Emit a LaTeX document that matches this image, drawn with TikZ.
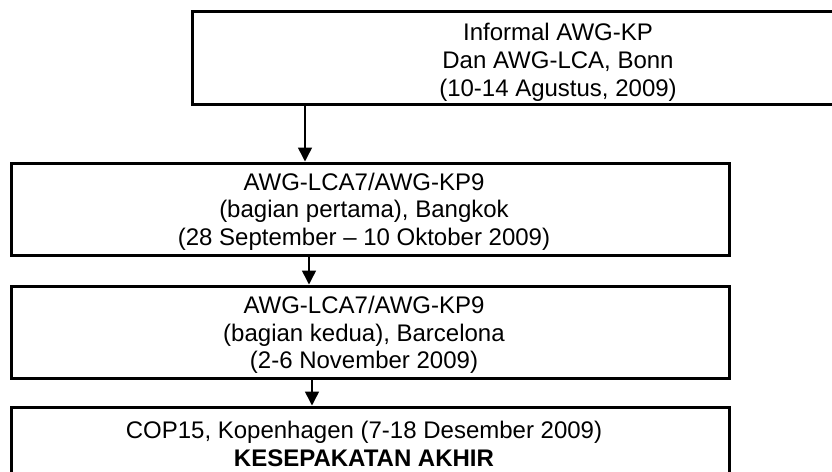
\documentclass[tikz,border=0pt]{standalone}
\usepackage{fontspec}
\setmainfont{Liberation Sans}
\usetikzlibrary{arrows.meta}
\begin{document}
\begin{tikzpicture}[x=0.5pt,y=-0.5pt,
  box/.style={draw, line width=1.5pt, rectangle, inner sep=0pt},
  txt/.style={anchor=base, inner sep=0pt, font=\fontsize{12}{14}\selectfont},
  arr/.style={line width=0.75pt, -{Triangle[width=7pt,length=7pt]}}]
\useasboundingbox (0,0) rectangle (832,472);
\clip (0,0) rectangle (832,472);
% boxes
\node[box, minimum width=366.5pt, minimum height=46.5pt] (b1) at (558.5,57.5) {};
\node[box, minimum width=359pt, minimum height=46pt] (b2) at (370,209) {};
\node[box, minimum width=359pt, minimum height=46pt] (b3) at (370,332) {};
\node[box, minimum width=359pt, minimum height=46.5pt] (b4) at (370,453.5) {};
% texts
\node[txt] (t1a) at (558,40) {Informal AWG-KP};
\node[txt] (t1b) at (558,68) {Dan AWG-LCA, Bonn};
\node[txt] (t1c) at (558,96) {(10-14 Agustus, 2009)};
\node[txt] (t2a) at (364,190) {AWG-LCA7/AWG-KP9};
\node[txt] (t2b) at (364,217) {(bagian pertama), Bangkok};
\node[txt] (t2c) at (364,245) {(28 September – 10 Oktober 2009)};
\node[txt] (t3a) at (364,313) {AWG-LCA7/AWG-KP9};
\node[txt] (t3b) at (364,341) {(bagian kedua), Barcelona};
\node[txt] (t3c) at (364,368) {(2-6 November 2009)};
\node[txt] (t4a) at (364,438) {COP15, Kopenhagen (7-18 Desember 2009)};
\node[txt] (t4b) at (364,466) {\bfseries KESEPAKATAN AKHIR};
% connectors
\draw[arr] (305,0 |- b1.south) -- (305,0 |- b2.north);
\draw[arr] (309,0 |- b2.south) -- (309,0 |- b3.north);
\draw[arr] (312,0 |- b3.south) -- (312,0 |- b4.north);
\end{tikzpicture}
\end{document}
